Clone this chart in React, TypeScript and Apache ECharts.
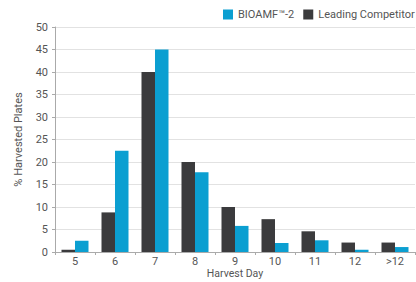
import React, { useEffect, useRef } from "react";
import * as echarts from "echarts";

const categories = ["5", "6", "7", "8", "9", "10", "11", "12", ">12"];
const competitorValues = [0.5, 8.8, 40, 20, 10, 7.3, 4.6, 2.1, 2.1];
const bioamfValues = [2.5, 22.5, 45, 17.7, 5.8, 2.0, 2.6, 0.5, 1.1];
const seriesNames = ["BIOAMF\u2122-2", "Leading Competitor"];

export default function App() {
  const ref = useRef<HTMLDivElement>(null);
  useEffect(() => {
    document.body.style.margin = "0";
    const chart = echarts.init(ref.current!, null, { renderer: "svg" });
    const font = "Roboto, 'DejaVu Sans Condensed', sans-serif";
    chart.setOption({
      animation: false,
      textStyle: { fontFamily: font },
      legend: {
        data: [seriesNames[0], seriesNames[1]],
        left: 223,
        top: 9,
        width: 300,
        padding: 0,
        itemWidth: 10,
        itemHeight: 10,
        itemGap: 9,
        icon: "rect",
        textStyle: { fontSize: 11, color: "#555", fontFamily: font },
      },
      grid: { left: 55, right: 1, top: 27, bottom: 30, containLabel: false, outerBoundsMode: "none" },
      xAxis: {
        type: "category",
        data: categories,
        name: "Harvest Day",
        nameLocation: "middle",
        nameGap: 15,
        nameMoveOverlap: false,
        nameTextStyle: { fontSize: 10.5, color: "#555", verticalAlign: "top", lineHeight: 12 },
        axisLine: { lineStyle: { color: "#aaa" } },
        axisTick: { show: true, length: 3, lineStyle: { color: "#aaa" } },
        axisLabel: { fontSize: 11, color: "#555", margin: 4, lineHeight: 11 },
      },
      yAxis: {
        type: "value",
        min: 0,
        max: 50,
        interval: 5,
        name: "% Harvested Plates",
        nameLocation: "middle",
        nameGap: 31,
        nameMoveOverlap: false,
        nameTextStyle: { fontSize: 11, color: "#555" },
        axisLine: { show: true, lineStyle: { color: "#aaa" } },
        axisTick: { show: true, length: 3, lineStyle: { color: "#aaa" } },
        axisLabel: { fontSize: 11, color: "#555", margin: 7 },
        splitLine: { lineStyle: { color: "#e2e2e2" } },
      },
      series: [
        {
          name: seriesNames[1],
          type: "bar",
          data: competitorValues,
          barWidth: 13.5,
          barGap: "0%",
          itemStyle: { color: "#3b3b3d" },
        },
        {
          name: seriesNames[0],
          type: "bar",
          data: bioamfValues,
          barWidth: 13.5,
          barGap: "0%",
          itemStyle: { color: "#0b9fd1" },
        },
      ],
    });
    return () => chart.dispose();
  }, []);
  return <div ref={ref} style={{ width: 416, height: 282 }} />;
}
